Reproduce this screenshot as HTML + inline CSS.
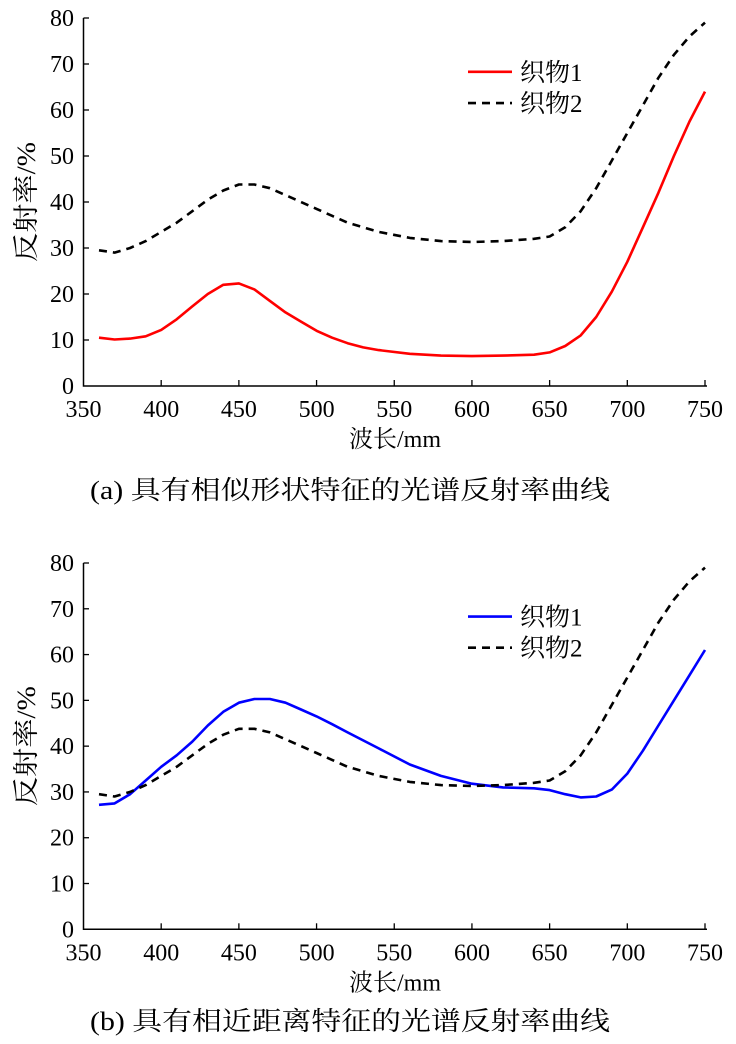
<!DOCTYPE html>
<html><head><meta charset="utf-8"><style>
html,body{margin:0;padding:0;background:#fff;}
svg text{font-family:"Liberation Serif","Noto Serif CJK SC","Noto Sans CJK SC",serif;fill:#000;}
</style></head><body>
<svg id="s" width="736" height="1039" xmlns="http://www.w3.org/2000/svg"></svg>
<script>
const S=document.getElementById('s');
let h='';
const xs=v=>83.5+(v-350)*(621.5/400);
const red=[[360,10.5],[370,10.1],[380,10.3],[390,10.8],[400,12.2],[410,14.5],[420,17.3],[430,20],[440,22],[450,22.3],[460,21],[470,18.5],[480,16],[490,14],[500,12],[510,10.5],[520,9.3],[530,8.4],[540,7.8],[560,7],[580,6.6],[600,6.5],[620,6.6],[640,6.8],[650,7.3],[660,8.7],[670,11],[680,15],[690,20.5],[700,27],[710,34.5],[720,42],[730,50],[740,57.5],[750,64]];
const dash=[[360,29.5],[370,29],[380,30],[390,31.5],[400,33.5],[410,35.5],[420,38],[430,40.5],[440,42.5],[450,43.8],[460,43.8],[470,43],[480,41.5],[490,40],[500,38.5],[510,37],[520,35.5],[540,33.5],[560,32.2],[580,31.5],[600,31.3],[620,31.5],[640,32],[650,32.5],[660,34.5],[670,38],[680,43],[690,49],[700,55],[710,61],[720,67],[730,72],[740,76],[750,79]];
const blue=[[360,27.2],[370,27.5],[380,29.5],[390,32.5],[400,35.5],[410,38],[420,41],[430,44.5],[440,47.5],[450,49.5],[460,50.3],[470,50.3],[480,49.5],[490,48],[500,46.5],[510,44.8],[520,43],[540,39.5],[560,36],[580,33.5],[600,31.8],[620,31],[640,30.8],[650,30.4],[660,29.5],[670,28.8],[680,29],[690,30.5],[700,34],[710,39],[720,44.5],[730,50],[740,55.5],[750,61]];
function chart(y0,y80,series,cap,capy){
  const ys=v=>y0+(y80-y0)*v/80;
  h+=`<path d="M83.5 ${y80} V${y0} H707" fill="none" stroke="#000" stroke-width="1.5"/>`;
  for(let i=0;i<=8;i++){const v=i*10,y=ys(v);
    if(i>0)h+=`<line x1="83.5" x2="89" y1="${y}" y2="${y}" stroke="#000" stroke-width="1.3"/>`;
    h+=`<text x="74" y="${y+8}" font-size="24" text-anchor="end">${v}</text>`;}
  for(let i=0;i<=8;i++){const v=350+i*50,x=xs(v);
    if(i>0)h+=`<line x1="${x}" x2="${x}" y1="${y0}" y2="${y0-6}" stroke="#000" stroke-width="1.3"/>`;
    h+=`<text x="${x}" y="${y0+31}" font-size="24" text-anchor="middle">${v}</text>`;}
  h+=`<text transform="translate(35 ${ys(40)}) rotate(-90)" font-size="26" text-anchor="middle" textLength="120" lengthAdjust="spacingAndGlyphs">反射率/%</text>`;
  h+=`<text x="395" y="${y0+61}" font-size="24" text-anchor="middle">波长/mm</text>`;
  h+=`<text x="90" y="${capy}" font-size="26" textLength="520" lengthAdjust="spacingAndGlyphs">${cap}</text>`;
  series.forEach(s=>{
    const d='M'+s.d.map(p=>xs(p[0]).toFixed(1)+' '+ys(p[1]).toFixed(1)).join(' L');
    h+=`<path d="${d}" fill="none" stroke="${s.c}" stroke-width="2.6" ${s.da?'stroke-dasharray="8 6"':''} stroke-linejoin="round"/>`;
  });
  const ly1=ys(68.3),ly2=ys(61.5);
  h+=`<line x1="468" x2="512" y1="${ly1}" y2="${ly1}" stroke="${series[0].c}" stroke-width="2.6"/>`;
  h+=`<text x="520" y="${ly1+9}" font-size="25">织物1</text>`;
  h+=`<line x1="468" x2="512" y1="${ly2}" y2="${ly2}" stroke="#000" stroke-width="2.6" stroke-dasharray="8 6"/>`;
  h+=`<text x="520" y="${ly2+9}" font-size="25">织物2</text>`;
}
chart(386,18,[{d:red,c:"#ff0000"},{d:dash,c:"#000",da:1}],"(a) 具有相似形状特征的光谱反射率曲线",499);
chart(929.3,563,[{d:blue,c:"#0000ff"},{d:dash,c:"#000",da:1}],"(b) 具有相近距离特征的光谱反射率曲线",1030);
S.innerHTML=h;
</script>
</body></html>
